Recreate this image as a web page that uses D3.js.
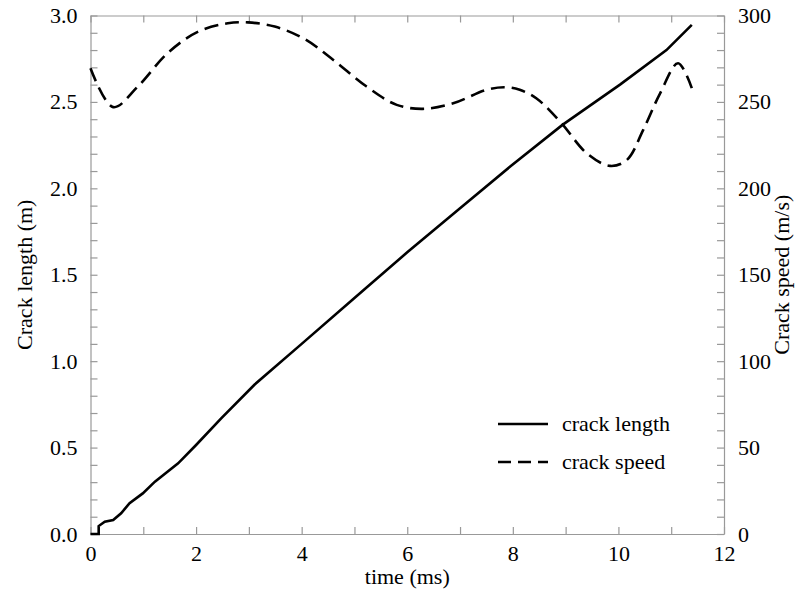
<!DOCTYPE html>
<html>
<head>
<meta charset="utf-8">
<script src="https://cdn.jsdelivr.net/npm/d3@7"></script>
<style>
body{margin:0;background:#fff;}
text{font-family:"Liberation Serif","DejaVu Serif",serif;}
</style>
</head>
<body>
<div id="chart"></div>
<script>
// crack length (m) vs time (ms)
var timeL = [0, 0.155, 0.155, 0.27, 0.43, 0.58, 0.74, 0.99, 1.22, 1.66, 2.0, 2.48, 3.11, 4.0, 5.0, 6.0, 7.0, 7.95, 8.94, 10.03, 10.91, 11.39];
var lengthVals = [0, 0, 0.046, 0.071, 0.081, 0.12, 0.178, 0.235, 0.303, 0.409, 0.515, 0.67, 0.865, 1.1, 1.365, 1.63, 1.885, 2.126, 2.367, 2.6, 2.8, 2.946];

// crack speed (m/s) vs time (ms)
var timeV = [0, 0.43, 0.9, 1.47, 2.04, 2.6, 2.98, 3.49, 4.05, 4.6, 5.23, 5.8, 6.3, 6.87, 7.5, 7.85, 8.13, 8.45, 8.92, 9.4, 9.84, 10.16, 10.47, 10.79, 11.13, 11.39];
var speedVals = [269.5, 247, 259, 278.5, 290.7, 295.5, 296, 293.6, 286.5, 274.3, 258.9, 248.3, 246, 249.2, 257, 258.5, 257, 252, 237.7, 220.3, 213, 216.4, 233.8, 255, 272.4, 258];

var xTicks = d3.range(0, 13, 1);
var lTicks = d3.range(0, 31, 1).map(d => d / 10);
var vTicks = d3.range(0, 310, 10);

var W = 802, H = 596;
var pLeft = 90.5, pRight = 724, pTop = 15.5, pBottom = 534;
var fs = 22;

var svg = d3.select("#chart").append("svg").attr("width", W).attr("height", H);

var x = d3.scaleLinear().domain([0, 12]).range([pLeft, pRight]);
var yL = d3.scaleLinear().domain([0, 3]).range([pBottom, pTop]);
var yV = d3.scaleLinear().domain([0, 300]).range([pBottom, pTop]);

function styleAxis(g){
    g.attr("font-family", null).attr("font-size", null);
    g.selectAll(".domain").attr("stroke", "#999").attr("stroke-width", 1.2);
    g.selectAll(".tick line").attr("stroke", "#999").attr("stroke-width", 1.2);
    g.selectAll(".tick text").attr("fill", "#000").attr("font-size", fs);
}

svg.append("g").attr("transform", "translate(0," + pBottom + ")")
    .call(d3.axisBottom(x).tickValues(xTicks).tickSize(-7).tickSizeOuter(0).tickPadding(11)
        .tickFormat(d => d % 2 == 0 ? d : ""))
    .call(styleAxis);
svg.append("g").attr("transform", "translate(0," + pTop + ")")
    .call(d3.axisTop(x).tickValues(xTicks).tickSize(-7).tickSizeOuter(0).tickFormat(""))
    .call(styleAxis);
svg.append("g").attr("transform", "translate(" + pLeft + ",0)")
    .call(d3.axisLeft(yL).tickValues(lTicks).tickSize(-7).tickSizeOuter(0).tickPadding(13)
        .tickFormat(d => Math.round(d * 10) % 5 == 0 ? d3.format(".1f")(d) : ""))
    .call(styleAxis);
svg.append("g").attr("transform", "translate(" + pRight + ",0)")
    .call(d3.axisRight(yV).tickValues(vTicks).tickSize(-7).tickSizeOuter(0).tickPadding(14)
        .tickFormat(d => d % 50 == 0 ? d : ""))
    .call(styleAxis);

var lenLine = d3.line().x((d, i) => x(timeL[i])).y(d => yL(d));
var spdLine = d3.line().x((d, i) => x(timeV[i])).y(d => yV(d)).curve(d3.curveCatmullRom);

svg.append("path").attr("d", lenLine(lengthVals)).attr("fill", "none")
    .attr("stroke", "#000").attr("stroke-width", 2.6);
svg.append("path").attr("d", spdLine(speedVals)).attr("fill", "none")
    .attr("stroke", "#000").attr("stroke-width", 2.6).attr("stroke-dasharray", "14,7");

// legend
var leg = [["crack length", null, 424], ["crack speed", "13,7", 462]];
leg.forEach(function(l){
    svg.append("line").attr("x1", 498).attr("x2", 548).attr("y1", l[2]).attr("y2", l[2])
        .attr("stroke", "#000").attr("stroke-width", 2.6).attr("stroke-dasharray", l[1]);
    svg.append("text").attr("x", 562).attr("y", l[2] + 7).attr("font-size", fs).text(l[0]);
});

// axis titles
svg.append("text").attr("x", (pLeft + pRight) / 2).attr("y", 584).attr("text-anchor", "middle")
    .attr("font-size", fs).text("time (ms)");
svg.append("text").attr("transform", "translate(32," + (pTop + pBottom) / 2 + ") rotate(-90)")
    .attr("text-anchor", "middle").attr("font-size", fs).text("Crack length (m)");
svg.append("text").attr("transform", "translate(789," + (pTop + pBottom) / 2 + ") rotate(-90)")
    .attr("text-anchor", "middle").attr("font-size", fs).text("Crack speed (m/s)");
</script>
</body>
</html>
